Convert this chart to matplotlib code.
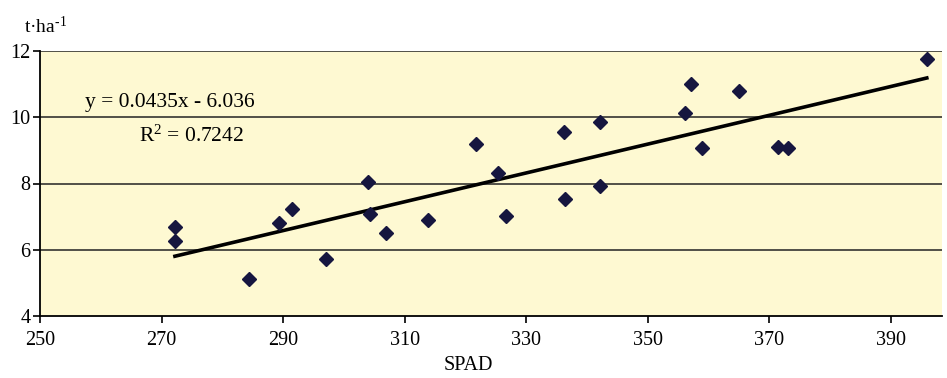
import numpy as np
import matplotlib
matplotlib.use("Agg")
import matplotlib.pyplot as plt

# Dados (SPAD x produtividade)
spad = [272.2, 272.2, 284.4, 289.3, 291.4, 297.0, 303.9, 304.3, 306.9, 313.8,
        321.7, 325.4, 326.6, 336.2, 336.4, 342.1, 342.1, 356.1, 357.1, 358.9,
        365.0, 371.5, 373.1, 395.9]
rend = [6.70, 6.27, 5.11, 6.80, 7.23, 5.72, 8.04, 7.08, 6.52, 6.90,
        9.20, 8.32, 7.02, 9.55, 7.54, 9.86, 7.93, 10.14, 10.99, 9.07,
        10.78, 9.10, 9.07, 11.76]

# Coeficientes da reta de tendência (como no gráfico)
coef_a = 0.0435
coef_b = -6.036
r2 = 0.7242

x_ticks = [250, 270, 290, 310, 330, 350, 370, 390]
y_ticks = [4, 6, 8, 10, 12]

plt.rcParams['font.family'] = ['Liberation Serif', 'DejaVu Serif']
plt.rcParams['mathtext.fontset'] = 'custom'
plt.rcParams['mathtext.rm'] = 'Liberation Serif'
plt.rcParams['mathtext.it'] = 'Liberation Serif:italic'
plt.rcParams['mathtext.default'] = 'rm'

fig = plt.figure(figsize=(9.47, 3.78), dpi=100)
ax = fig.add_axes([40 / 947, 1 - 316 / 378, 902 / 947, 265 / 378])
ax.set_facecolor('#FEF9D2')

# Linhas de grade horizontais
for yv in y_ticks[1:]:
    ax.axhline(yv, color='#222222', lw=1.1, zorder=1)

# Pontos
ax.plot(spad, rend, 'D', color='#16163F', markersize=6.8, zorder=3)

# Reta de tendência
x_lin = np.array([min(spad), max(spad)])
ax.plot(x_lin, coef_a * x_lin + coef_b, color='black', lw=2.6, zorder=2)

ax.set_xlim(250, 398.4)
ax.set_ylim(4, 12)
ax.set_xticks(x_ticks)
ax.set_yticks(y_ticks)
ax.tick_params(direction='out', length=5, width=1.2, labelsize=14.5,
               colors='black', pad=2)
ax.tick_params(axis='x', pad=6)
for s in ['top', 'right']:
    ax.spines[s].set_visible(False)
for s in ['left', 'bottom']:
    ax.spines[s].set_linewidth(1.3)

fig.text(170 / 947, 1 - 103 / 378, 'y = %.4fx - %.3f' % (coef_a, -coef_b),
         fontsize=15.5, ha='center', va='center')
fig.text(192 / 947, 1 - 136 / 378, 'R$^2$ = %.4f' % r2, fontsize=15.5,
         ha='center', va='center')
fig.text(24 / 947, 1 - 26 / 378, 't·ha$^{\\text{-}1}$', fontsize=14,
         ha='left', va='center')
fig.text(468 / 947, 1 - 366 / 378, 'SPAD', fontsize=14.5,
         ha='center', va='center')

fig.savefig('out.png', dpi=100)
